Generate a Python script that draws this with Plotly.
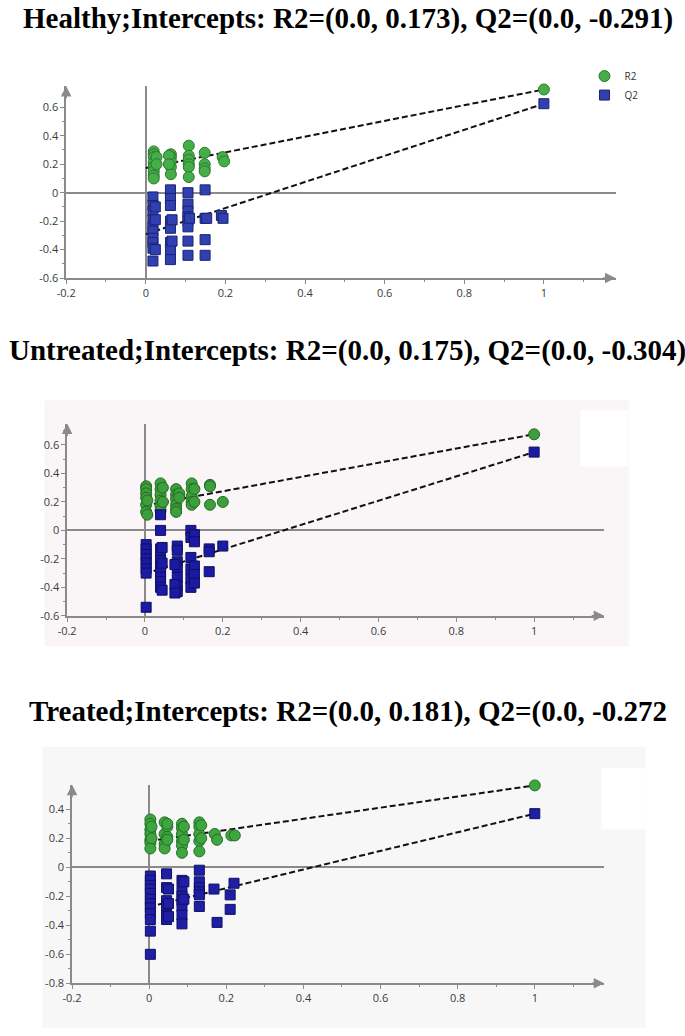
import plotly.graph_objects as go
from plotly.subplots import make_subplots

# %% data
titles = [
    "Healthy;Intercepts: R2=(0.0, 0.173), Q2=(0.0, -0.291)",
    "Untreated;Intercepts: R2=(0.0, 0.175), Q2=(0.0, -0.304)",
    "Treated;Intercepts: R2=(0.0, 0.181), Q2=(0.0, -0.272",
]

healthy_r2_x = [0.02] * 8 + [0.027] * 2 + [0.063] * 5 + [0.058] * 2 + [0.108] * 6 + [0.148] * 4 + [0.193, 0.197, 1.0]
healthy_r2_y = [0.29, 0.27, 0.25, 0.21, 0.18, 0.15, 0.12, 0.10, 0.25, 0.20,
                0.27, 0.25, 0.22, 0.18, 0.13, 0.26, 0.20,
                0.33, 0.26, 0.23, 0.20, 0.18, 0.11,
                0.28, 0.20, 0.17, 0.15,
                0.25, 0.22, 0.725]
healthy_q2_x = [0.018] * 10 + [0.024] * 3 + [0.062] * 8 + [0.066] * 2 + [0.106] * 8 + [0.11] + [0.149] * 4 + [0.153, 0.19, 0.194, 1.0]
healthy_q2_y = [-0.03, -0.09, -0.13, -0.19, -0.24, -0.27, -0.32, -0.35, -0.39, -0.48,
                -0.10, -0.19, -0.40,
                0.02, -0.04, -0.09, -0.20, -0.25, -0.35, -0.40, -0.47, -0.19, -0.34,
                0.0, -0.08, -0.13, -0.17, -0.20, -0.24, -0.34, -0.44, -0.18,
                0.02, -0.18, -0.33, -0.44, -0.18,
                -0.16, -0.18, 0.625]

untreated_r2_x = [0.003] * 6 + [0.006] * 2 + [0.04] * 6 + [0.046] * 2 + [0.08] * 6 + [0.088] * 2 + [0.12] * 5 + [0.127] * 2 + [0.167] * 3 + [0.2, 1.0]
untreated_r2_y = [0.31, 0.29, 0.26, 0.23, 0.18, 0.13, 0.21, 0.11,
                  0.33, 0.29, 0.25, 0.21, 0.17, 0.14, 0.30, 0.20,
                  0.29, 0.25, 0.22, 0.18, 0.15, 0.13, 0.26, 0.23,
                  0.33, 0.29, 0.24, 0.20, 0.18, 0.29, 0.20,
                  0.32, 0.31, 0.18,
                  0.20, 0.675]
untreated_q2_x = [0.003] * 8 + [0.04] * 10 + [0.044] * 3 + [0.083] * 7 + [0.077] * 3 + [0.118] * 6 + [0.127] * 5 + [0.165] * 3 + [0.2, 1.0]
untreated_q2_y = [-0.10, -0.13, -0.17, -0.20, -0.23, -0.27, -0.30, -0.54,
                  0.11, 0.0, -0.13, -0.18, -0.21, -0.26, -0.29, -0.33, -0.36, -0.40,
                  -0.12, -0.23, -0.42,
                  -0.11, -0.14, -0.22, -0.26, -0.33, -0.39, -0.43,
                  -0.24, -0.38, -0.44,
                  0.0, -0.05, -0.19, -0.27, -0.34, -0.40,
                  -0.03, -0.08, -0.25, -0.31, -0.37,
                  -0.13, -0.15, -0.29,
                  -0.11, 0.55]

treated_r2_x = [0.003] * 7 + [0.006] * 2 + [0.04] * 4 + [0.047] * 4 + [0.085] * 6 + [0.09] * 2 + [0.13] * 5 + [0.135] * 2 + [0.17, 0.176, 0.213, 0.222, 1.0]
treated_r2_y = [0.33, 0.30, 0.26, 0.23, 0.19, 0.17, 0.13, 0.28, 0.20,
                0.31, 0.23, 0.16, 0.13, 0.28, 0.30, 0.21, 0.19,
                0.30, 0.27, 0.23, 0.18, 0.15, 0.10, 0.28, 0.19,
                0.31, 0.28, 0.23, 0.18, 0.11, 0.29, 0.20,
                0.23, 0.19, 0.22, 0.22, 0.565]
treated_q2_x = [0.003] * 12 + [0.045] * 6 + [0.05] * 3 + [0.085] * 7 + [0.09] * 2 + [0.13] * 6 + [0.168, 0.176, 0.21, 0.21, 0.22, 1.0]
treated_q2_y = [-0.06, -0.09, -0.125, -0.15, -0.18, -0.22, -0.25, -0.28, -0.32, -0.36, -0.44, -0.60,
                -0.045, -0.14, -0.23, -0.27, -0.33, -0.36,
                -0.15, -0.25, -0.34,
                -0.09, -0.16, -0.20, -0.23, -0.27, -0.33, -0.39,
                -0.10, -0.22,
                -0.02, -0.10, -0.14, -0.17, -0.19, -0.27,
                -0.15, -0.38, -0.19, -0.29, -0.11, 0.37]

r2_intercepts = [0.173, 0.175, 0.181]
q2_intercepts = [-0.291, -0.304, -0.272]

x_ticks = [-0.2, 0, 0.2, 0.4, 0.6, 0.8, 1]
x_ticktext = ["-0.2", "0", "0.2", "0.4", "0.6", "0.8", "1"]
y_ticks_top = [-0.6, -0.4, -0.2, 0, 0.2, 0.4, 0.6]
y_ticktext_top = ["-0.6", "-0.4", "-0.2", "0", "0.2", "0.4", "0.6"]
y_ticks_bottom = [-0.8, -0.6, -0.4, -0.2, 0, 0.2, 0.4]
y_ticktext_bottom = ["-0.8", "-0.6", "-0.4", "-0.2", "0", "0.2", "0.4"]

# %% geometry (pixels on a 685 x 1036 page)
W, H = 685, 1036

def px_x(p):
    return p / W

def px_y(p):
    return 1 - p / H

panels = [
    dict(xd=(57, 614.5), yd=(86.5, 280), yr=[-0.6, 0.75], ty=0,
         yt=y_ticks_top, ytt=y_ticktext_top,
         green='#45ae48', green_line='#2b7a2d', blue='#3040b0', blue_line='#1b2470'),
    dict(xd=(58, 603), yd=(426.5, 620), yr=[-0.6, 0.75], ty=334,
         yt=y_ticks_top, ytt=y_ticktext_top,
         green='#3c9f3c', green_line='#236a25', blue='#1a1aa4', blue_line='#10105e'),
    dict(xd=(63, 603), yd=(790, 990), yr=[-0.8, 0.57], ty=698,
         yt=y_ticks_bottom, ytt=y_ticktext_bottom,
         green='#3ea53f', green_line='#24702a', blue='#1e1ea6', blue_line='#121260'),
]

series = [
    (healthy_r2_x, healthy_r2_y, healthy_q2_x, healthy_q2_y),
    (untreated_r2_x, untreated_r2_y, untreated_q2_x, untreated_q2_y),
    (treated_r2_x, treated_r2_y, treated_q2_x, treated_q2_y),
]

fig = make_subplots(rows=3, cols=1)

axis_grey = '#8a8a8a'
tick_font = dict(family='Open Sans, DejaVu Sans, sans-serif', size=11, color='#3a3a3a')

for i, (p, (r2x, r2y, q2x, q2y)) in enumerate(zip(panels, series)):
    row = i + 1
    # dashed regression lines from intercept to the real model
    fig.add_trace(go.Scatter(x=[0, r2x[-1]], y=[r2_intercepts[i], r2y[-1]], mode='lines',
                             line=dict(color='#111111', width=2, dash='6px,3px'),
                             showlegend=False, hoverinfo='skip'), row=row, col=1)
    fig.add_trace(go.Scatter(x=[0, q2x[-1]], y=[q2_intercepts[i], q2y[-1]], mode='lines',
                             line=dict(color='#111111', width=2, dash='6px,3px'),
                             showlegend=False, hoverinfo='skip'), row=row, col=1)
    fig.add_trace(go.Scatter(x=r2x, y=r2y, mode='markers', name='R2', cliponaxis=False,
                             marker=dict(symbol='circle', size=11, color=p['green'],
                                         line=dict(color=p['green_line'], width=1)),
                             showlegend=(i == 0)), row=row, col=1)
    fig.add_trace(go.Scatter(x=q2x, y=q2y, mode='markers', name='Q2', cliponaxis=False,
                             marker=dict(symbol='square', size=10, color=p['blue'],
                                         line=dict(color=p['blue_line'], width=1)),
                             showlegend=(i == 0)), row=row, col=1)

    fig.update_xaxes(domain=[px_x(p['xd'][0]), px_x(p['xd'][1])], range=[-0.2, 1.18],
                     tickmode='array', tickvals=x_ticks, ticktext=x_ticktext,
                     showline=True, linecolor=axis_grey, linewidth=1.5,
                     ticks='outside', ticklen=4, tickcolor=axis_grey, tickwidth=1,
                     minor=dict(tickmode='linear', tick0=0, dtick=0.1, ticks='outside',
                                ticklen=2, tickcolor=axis_grey),
                     showgrid=False, zeroline=True, zerolinecolor=axis_grey, zerolinewidth=1.5,
                     tickfont=tick_font, row=row, col=1)
    fig.update_yaxes(domain=[px_y(p['yd'][1]), px_y(p['yd'][0])], range=p['yr'],
                     tickmode='array', tickvals=p['yt'], ticktext=p['ytt'],
                     showline=True, linecolor=axis_grey, linewidth=1.5,
                     ticks='outside', ticklen=4, tickcolor=axis_grey, tickwidth=1,
                     minor=dict(tickmode='linear', tick0=0, dtick=0.1, ticks='outside',
                                ticklen=2, tickcolor=axis_grey),
                     showgrid=False, zeroline=True, zerolinecolor=axis_grey, zerolinewidth=1.5,
                     tickfont=tick_font, row=row, col=1)

    xa = 'x' if i == 0 else f'x{row}'
    ya = 'y' if i == 0 else f'y{row}'
    # arrow heads at the ends of both axes
    fig.add_annotation(x=1, y=0, xref=f'{xa} domain', yref=f'{ya} domain', ax=-14, ay=0,
                       showarrow=True, arrowhead=2, arrowsize=1.4, arrowwidth=1.5,
                       arrowcolor=axis_grey, text='')
    fig.add_annotation(x=0, y=1, xref=f'{xa} domain', yref=f'{ya} domain', ax=0, ay=14,
                       showarrow=True, arrowhead=2, arrowsize=1.4, arrowwidth=1.5,
                       arrowcolor=axis_grey, text='')
    # panel title
    fig.add_annotation(x=0.5, y=px_y(p['ty']), xref='paper', yref='paper', showarrow=False,
                       text=f"<b>{titles[i]}</b>", xanchor='center', yanchor='top',
                       font=dict(family='Liberation Serif, Times New Roman, serif', size=29,
                                 color='#000000'))

# tinted backgrounds of the second and third screenshots, with the blanked legend boxes
backgrounds = [
    ((35, 403, 628, 651), '#faf6f7'),
    ((579, 413, 627, 470), '#ffffff'),
    ((33, 752, 645, 1035), '#f7f7f7'),
    ((600, 773, 645, 835), '#ffffff'),
]
for (x0, y0, x1, y1), c in backgrounds:
    fig.add_shape(type='rect', xref='paper', yref='paper', layer='below',
                  x0=px_x(x0), x1=px_x(x1), y0=px_y(y1), y1=px_y(y0),
                  fillcolor=c, line=dict(width=0))

fig.update_layout(
    width=W, height=H,
    margin=dict(l=0, r=0, t=0, b=0),
    paper_bgcolor='white', plot_bgcolor='rgba(0,0,0,0)',
    legend=dict(x=px_x(583), y=px_y(62), xanchor='left', yanchor='top',
                font=dict(family='Open Sans, DejaVu Sans, sans-serif', size=10, color='#333333'),
                bgcolor='rgba(0,0,0,0)', itemwidth=30, tracegroupgap=0),
)

# page margin off so the figure sits flush in the window
fig.write_html("out.html", config={'displayModeBar': False},
               post_script="document.body.style.margin='0';document.body.style.overflow='hidden';")
